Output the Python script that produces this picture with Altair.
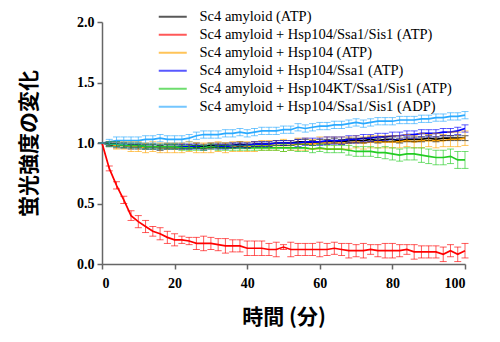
import altair as alt
import pandas as pd

time = list(range(0, 101, 2))

labels = [
    "Sc4 amyloid (ATP)",
    "Sc4 amyloid + Hsp104/Ssa1/Sis1 (ATP)",
    "Sc4 amyloid + Hsp104 (ATP)",
    "Sc4 amyloid + Hsp104/Ssa1 (ATP)",
    "Sc4 amyloid + Hsp104KT/Ssa1/Sis1 (ATP)",
    "Sc4 amyloid + Hsp104/Ssa1/Sis1 (ADP)",
]
colors = ["#000000", "#ff0000", "#ffa500", "#0000ff", "#22cc22", "#2aa9ff"]

black = [1.0, 0.99, 0.98, 0.98, 0.97, 0.97, 0.97, 0.97, 0.96, 0.97, 0.97, 0.97, 0.97, 0.98, 0.97, 0.98, 0.98,
         0.98, 0.98, 0.99, 0.98, 0.99, 0.99, 0.99, 1.0, 1.0, 1.0, 1.01, 1.01, 1.0, 1.01, 1.01, 1.02, 1.01, 1.02,
         1.02, 1.02, 1.03, 1.02, 1.03, 1.03, 1.02, 1.03, 1.03, 1.03, 1.04, 1.03, 1.04, 1.04, 1.04, 1.04]
black_err = [0.0, 0.01, 0.02, 0.02, 0.02, 0.02, 0.02, 0.02, 0.02, 0.02, 0.02, 0.02, 0.02, 0.02, 0.02, 0.02, 0.02,
             0.02, 0.02, 0.02, 0.02, 0.02, 0.02, 0.02, 0.02, 0.02, 0.02, 0.02, 0.02, 0.02, 0.02, 0.02, 0.02, 0.02,
             0.02, 0.02, 0.02, 0.02, 0.02, 0.02, 0.02, 0.02, 0.02, 0.02, 0.02, 0.02, 0.02, 0.02, 0.02, 0.02, 0.02]

red = [1.0, 0.79, 0.65, 0.53, 0.40, 0.35, 0.31, 0.27, 0.25, 0.22, 0.20, 0.20, 0.19, 0.17, 0.17, 0.17, 0.16,
       0.15, 0.15, 0.15, 0.13, 0.13, 0.13, 0.12, 0.12, 0.14, 0.12, 0.12, 0.12, 0.12, 0.12, 0.12, 0.13, 0.12,
       0.11, 0.11, 0.11, 0.12, 0.11, 0.11, 0.11, 0.11, 0.12, 0.10, 0.10, 0.10, 0.10, 0.08, 0.11, 0.08, 0.11]
red_err = [0.0, 0.02, 0.03, 0.03, 0.04, 0.05, 0.05, 0.04, 0.05, 0.05, 0.05, 0.03, 0.03, 0.05, 0.06, 0.05, 0.05,
           0.06, 0.05, 0.05, 0.06, 0.06, 0.06, 0.05, 0.06, 0.02, 0.06, 0.05, 0.05, 0.05, 0.06, 0.05, 0.05, 0.05,
           0.06, 0.05, 0.06, 0.04, 0.05, 0.06, 0.06, 0.05, 0.04, 0.06, 0.05, 0.05, 0.05, 0.06, 0.05, 0.06, 0.06]

orange = [1.0, 0.99, 0.98, 0.98, 0.97, 0.97, 0.96, 0.97, 0.96, 0.96, 0.96, 0.96, 0.97, 0.96, 0.96, 0.96, 0.97,
          0.96, 0.97, 0.97, 0.97, 0.97, 0.98, 0.98, 0.98, 0.98, 0.98, 0.99, 0.99, 0.99, 1.0, 1.0, 1.0, 1.0, 1.0,
          1.01, 1.0, 1.01, 1.01, 1.01, 1.01, 1.01, 1.02, 1.01, 1.02, 1.02, 1.02, 1.02, 1.03, 1.03, 1.04]
orange_err = [0.0, 0.02, 0.03, 0.03, 0.04, 0.04, 0.04, 0.04, 0.04, 0.04, 0.04, 0.04, 0.04, 0.04, 0.04, 0.04, 0.04,
              0.04, 0.04, 0.04, 0.04, 0.04, 0.04, 0.04, 0.04, 0.05, 0.04, 0.05, 0.05, 0.04, 0.05, 0.05, 0.05, 0.05,
              0.05, 0.05, 0.05, 0.05, 0.05, 0.05, 0.05, 0.05, 0.05, 0.05, 0.06, 0.05, 0.06, 0.05, 0.06, 0.06, 0.06]

blue = [1.0, 0.99, 0.99, 0.98, 0.98, 0.98, 0.97, 0.97, 0.97, 0.97, 0.97, 0.97, 0.97, 0.97, 0.96, 0.97, 0.97,
        0.97, 0.98, 0.98, 0.98, 0.99, 0.99, 0.99, 1.0, 1.0, 1.0, 1.0, 1.01, 1.01, 1.01, 1.02, 1.02, 1.02, 1.03,
        1.03, 1.04, 1.04, 1.05, 1.05, 1.06, 1.06, 1.07, 1.07, 1.08, 1.08, 1.08, 1.09, 1.09, 1.10, 1.12]
blue_err = [0.0, 0.02, 0.02, 0.02, 0.02, 0.02, 0.02, 0.02, 0.02, 0.02, 0.02, 0.02, 0.02, 0.02, 0.02, 0.02, 0.02,
            0.02, 0.02, 0.02, 0.02, 0.02, 0.02, 0.02, 0.02, 0.02, 0.02, 0.03, 0.03, 0.03, 0.03, 0.03, 0.03, 0.03,
            0.03, 0.03, 0.03, 0.03, 0.03, 0.03, 0.03, 0.03, 0.03, 0.03, 0.03, 0.03, 0.03, 0.03, 0.03, 0.03, 0.03]

green = [1.0, 0.99, 0.99, 0.98, 0.98, 0.98, 0.97, 0.97, 0.97, 0.97, 0.97, 0.96, 0.96, 0.96, 0.96, 0.97, 0.96,
         0.96, 0.96, 0.96, 0.96, 0.96, 0.96, 0.96, 0.96, 0.96, 0.96, 0.96, 0.96, 0.95, 0.96, 0.95, 0.95, 0.95,
         0.94, 0.93, 0.93, 0.93, 0.92, 0.92, 0.91, 0.90, 0.91, 0.91, 0.90, 0.89, 0.88, 0.88, 0.89, 0.86, 0.86]
green_err = [0.0, 0.02, 0.02, 0.02, 0.02, 0.02, 0.02, 0.02, 0.02, 0.02, 0.02, 0.02, 0.02, 0.02, 0.02, 0.02, 0.02,
             0.02, 0.02, 0.02, 0.02, 0.02, 0.02, 0.02, 0.02, 0.03, 0.02, 0.03, 0.03, 0.03, 0.03, 0.03, 0.03, 0.03,
             0.04, 0.04, 0.04, 0.04, 0.04, 0.05, 0.05, 0.05, 0.05, 0.05, 0.06, 0.06, 0.06, 0.06, 0.06, 0.07, 0.07]

lightblue = [1.0, 1.01, 1.02, 1.02, 1.02, 1.02, 1.03, 1.03, 1.04, 1.03, 1.03, 1.03, 1.04, 1.06, 1.07, 1.07, 1.07,
             1.08, 1.08, 1.09, 1.08, 1.09, 1.10, 1.10, 1.10, 1.11, 1.11, 1.13, 1.12, 1.13, 1.14, 1.14, 1.15, 1.15,
             1.16, 1.17, 1.16, 1.17, 1.18, 1.18, 1.18, 1.19, 1.19, 1.19, 1.20, 1.20, 1.21, 1.21, 1.22, 1.22, 1.23]
lightblue_err = [0.0, 0.02, 0.03, 0.03, 0.03, 0.03, 0.03, 0.03, 0.03, 0.03, 0.03, 0.03, 0.03, 0.03, 0.03, 0.03,
                 0.03, 0.03, 0.03, 0.03, 0.03, 0.03, 0.03, 0.03, 0.03, 0.03, 0.03, 0.03, 0.03, 0.03, 0.03, 0.03,
                 0.03, 0.03, 0.03, 0.03, 0.03, 0.03, 0.03, 0.03, 0.03, 0.03, 0.03, 0.03, 0.03, 0.03, 0.03, 0.03,
                 0.03, 0.03, 0.03]

means = [black, red, orange, blue, green, lightblue]
errs = [black_err, red_err, orange_err, blue_err, green_err, lightblue_err]

rows = []
for name, m, e in zip(labels, means, errs):
    for t, v, d in zip(time, m, e):
        rows.append({"series": name, "t": t, "v": v, "lo": v - d, "hi": v + d})
df = pd.DataFrame(rows)

legend = alt.Legend(
    orient="none", legendX=63.5, legendY=-12.5, title=None, padding=0,
    symbolType="M-4,0H4", symbolSize=49, symbolStrokeWidth=2,
    labelFont="Liberation Serif", labelFontSize=14.5, labelColor="#000000",
    labelOffset=19.5, rowPadding=3, labelLimit=400,
)
color = alt.Color("series:N", scale=alt.Scale(domain=labels, range=colors), legend=legend)

xscale = alt.Scale(domain=[0, 100], nice=False, padding=0)
yscale = alt.Scale(domain=[0, 2], nice=False, padding=0)
xaxis = alt.Axis(values=[0, 20, 40, 60, 80, 100], title="時間 (分)", titlePadding=16)
yaxis = alt.Axis(values=[0, 0.5, 1.0, 1.5, 2.0], format=".1f", title="蛍光強度の変化", titlePadding=37)

base = alt.Chart(df)
lines = base.mark_line(strokeWidth=1.7).encode(
    x=alt.X("t:Q", scale=xscale, axis=xaxis, title="時間 (分)"),
    y=alt.Y("v:Q", scale=yscale, axis=yaxis, title="蛍光強度の変化"),
    color=color, order="t:Q")
bars = base.mark_errorbar(ticks={"size": 7}, thickness=1, opacity=0.65).encode(
    x=alt.X("t:Q", scale=xscale, axis=xaxis, title="時間 (分)"),
    y=alt.Y("lo:Q", scale=yscale, axis=yaxis, title="蛍光強度の変化"),
    y2="hi:Q", color=color)

chart = alt.layer(lines, bars).properties(
    width=363, height=242,
    autosize=alt.AutoSizeParams(type="none"),
    padding={"left": 102, "top": 22, "right": 35, "bottom": 78},
).configure_view(stroke=None).configure_scale(continuousPadding=0).configure_axis(
    domainColor="#666666", domainWidth=1.5, tickColor="#666666", tickWidth=1.5, tickSize=5,
    grid=False, labelFont="Liberation Serif", labelFontSize=14, labelFontWeight="bold",
    labelColor="#000000", labelPadding=3,
    titleFont="Noto Sans CJK JP", titleFontSize=21, titleFontWeight="bold", titleColor="#000000",
).configure_axisX(labelPadding=7)

chart.save("out.html", embed_options={"renderer": "svg", "actions": False})
